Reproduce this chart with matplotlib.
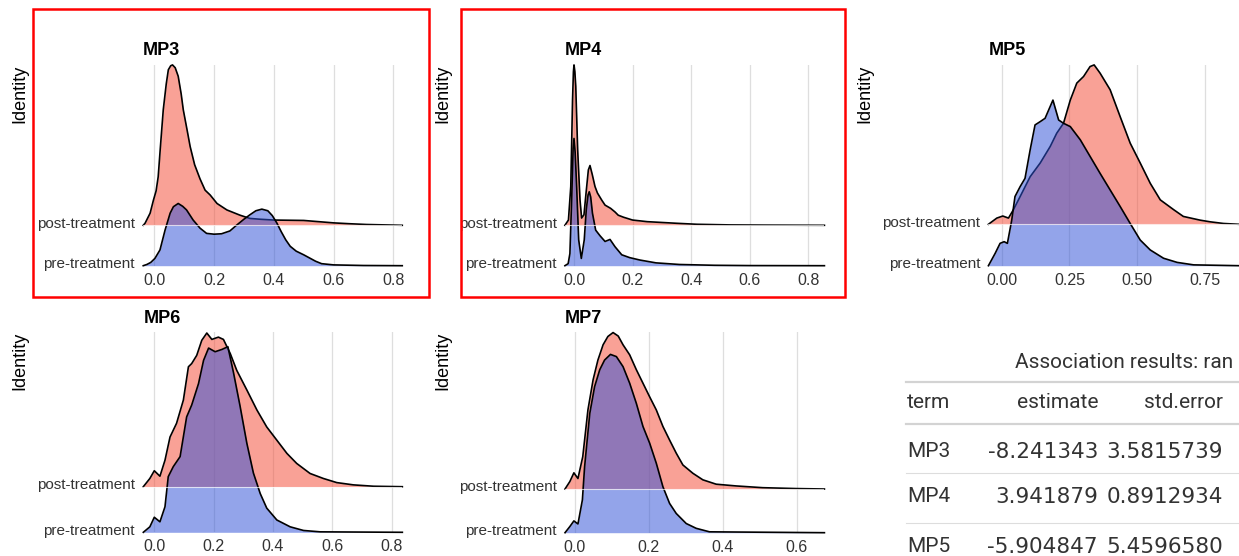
import numpy as np
import matplotlib
matplotlib.use("Agg")
import matplotlib.pyplot as plt
from matplotlib.patches import Rectangle
from matplotlib.transforms import ScaledTranslation

plt.rcParams['font.family'] = ['Liberation Sans', 'DejaVu Sans']

W, H = 1239, 556

# ridge heights, in units of the gap between the two ridges
mp3_post_x = [-0.037, -0.031, -0.014, -0.003, 0.006, 0.013, 0.02, 0.03, 0.04, 0.047, 0.055, 0.061, 0.07,
              0.08, 0.09, 0.097, 0.11, 0.12, 0.135, 0.153, 0.17, 0.187, 0.21, 0.243, 0.287, 0.32, 0.354,
              0.4, 0.45, 0.5, 0.55, 0.6, 0.65, 0.71, 0.77, 0.83]
mp3_post_h = [0, 0.05, 0.30, 0.62, 0.85, 1.2, 1.9, 2.86, 3.5, 3.85, 3.95, 3.97, 3.9,
              3.69, 3.25, 2.86, 2.35, 1.95, 1.5, 1.15, 0.87, 0.75, 0.54, 0.38, 0.25, 0.17, 0.15,
              0.13, 0.125, 0.12, 0.09, 0.06, 0.04, 0.02, 0.01, 0]
mp3_pre_x = [-0.037, -0.025, -0.012, 0.002, 0.019, 0.036, 0.053, 0.064, 0.08, 0.095, 0.108, 0.13, 0.153,
             0.175, 0.2, 0.225, 0.253, 0.275, 0.3, 0.32, 0.34, 0.36, 0.38, 0.395, 0.41, 0.425, 0.44,
             0.455, 0.475, 0.5, 0.52, 0.54, 0.56, 0.6, 0.7, 0.83]
mp3_pre_h = [0, 0.03, 0.08, 0.18, 0.39, 0.88, 1.30, 1.46, 1.54, 1.47, 1.38, 1.13, 0.93,
             0.80, 0.78, 0.79, 0.86, 1.0, 1.15, 1.26, 1.36, 1.40, 1.36, 1.24, 1.06, 0.84, 0.64,
             0.48, 0.36, 0.27, 0.19, 0.11, 0.05, 0.02, 0.005, 0]

mp4_post_x = [-0.031, -0.019, -0.011, -0.005, -0.002, 0.0, 0.003, 0.006, 0.0125, 0.0205, 0.026, 0.034,
              0.041, 0.049, 0.0546, 0.0626, 0.0717, 0.08, 0.095, 0.106, 0.125, 0.14, 0.151, 0.169, 0.2,
              0.25, 0.3, 0.35, 0.42, 0.53, 0.65, 0.855]
mp4_post_h = [0, 0.13, 0.96, 3.1, 3.8, 3.97, 3.8, 3.44, 1.87, 0.63, 0.18, 0.26,
              0.79, 1.37, 1.48, 1.25, 0.96, 0.8, 0.62, 0.5, 0.42, 0.33, 0.25, 0.2, 0.13,
              0.09, 0.07, 0.05, 0.025, 0.01, 0.005, 0]
mp4_pre_x = [-0.031, -0.02, -0.014, -0.008, -0.003, 0.0, 0.004, 0.009, 0.016, 0.025, 0.035, 0.042,
             0.048, 0.052, 0.057, 0.063, 0.074, 0.089, 0.106, 0.123, 0.14, 0.163, 0.19, 0.225, 0.28,
             0.36, 0.48, 0.6, 0.855]
mp4_pre_h = [0, 0.05, 0.3, 1.63, 2.9, 3.15, 2.8, 1.96, 0.64, 0.18, 0.64, 1.4,
             1.75, 1.83, 1.7, 1.3, 0.88, 0.74, 0.60, 0.65, 0.47, 0.27, 0.2, 0.14, 0.07,
             0.03, 0.01, 0.003, 0]

mp5_post_x = [-0.049, -0.018, 0.004, 0.025, 0.043, 0.068, 0.105, 0.142, 0.179, 0.203, 0.228, 0.253,
              0.277, 0.302, 0.326, 0.341, 0.363, 0.40, 0.437, 0.474, 0.511, 0.548, 0.585, 0.635,
              0.67, 0.732, 0.769, 0.818, 0.876]
mp5_post_h = [0, 0.15, 0.20, 0.15, 0.35, 0.67, 1.15, 1.48, 1.88, 2.2, 2.44, 3.0,
              3.41, 3.57, 3.81, 3.85, 3.65, 3.25, 2.6, 1.96, 1.48, 0.99, 0.59, 0.35,
              0.19, 0.10, 0.06, 0.02, 0]
mp5_pre_x = [-0.049, -0.024, -0.006, 0.009, 0.021, 0.037, 0.049, 0.068, 0.086, 0.105, 0.123, 0.142,
             0.16, 0.189, 0.21, 0.228, 0.253, 0.29, 0.326, 0.363, 0.40, 0.437, 0.474, 0.511,
             0.548, 0.597, 0.647, 0.708, 0.876]
mp5_pre_h = [0, 0.30, 0.54, 0.58, 0.54, 1.10, 1.67, 1.91, 2.11, 2.8, 3.4, 3.48,
             3.56, 4.0, 3.52, 3.44, 3.36, 3.04, 2.64, 2.23, 1.83, 1.43, 1.02, 0.62,
             0.38, 0.18, 0.08, 0.02, 0]

mp6_post_x = [-0.037, -0.015, 0.0, 0.019, 0.036, 0.053, 0.075, 0.098, 0.115, 0.126, 0.143, 0.16,
              0.177, 0.194, 0.216, 0.233, 0.256, 0.278, 0.312, 0.346, 0.379, 0.413, 0.447, 0.48,
              0.525, 0.57, 0.615, 0.671, 0.739, 0.836]
mp6_post_h = [0, 0.18, 0.35, 0.23, 0.58, 1.09, 1.39, 1.90, 2.63, 2.70, 2.88, 3.21,
              3.37, 3.23, 3.28, 3.23, 2.92, 2.55, 2.12, 1.68, 1.31, 1.02, 0.73, 0.51,
              0.29, 0.18, 0.09, 0.04, 0.01, 0]
mp6_pre_x = [-0.037, -0.015, 0.0, 0.019, 0.036, 0.047, 0.064, 0.087, 0.109, 0.126, 0.149, 0.166,
             0.183, 0.205, 0.228, 0.248, 0.267, 0.289, 0.312, 0.334, 0.357, 0.379, 0.413, 0.458,
             0.503, 0.559, 0.836]
mp6_pre_h = [0, 0.12, 0.33, 0.23, 0.56, 1.22, 1.44, 1.66, 2.53, 2.79, 3.26, 3.77,
             4.04, 3.96, 4.01, 4.07, 3.50, 2.77, 1.95, 1.30, 0.85, 0.53, 0.27, 0.12,
             0.04, 0.01, 0]

mp7_post_x = [-0.027, -0.014, -0.003, 0.008, 0.021, 0.035, 0.049, 0.062, 0.076, 0.089, 0.103, 0.117,
              0.13, 0.148, 0.166, 0.184, 0.202, 0.22, 0.238, 0.256, 0.274, 0.292, 0.319, 0.346,
              0.382, 0.436, 0.508, 0.598, 0.675]
mp7_post_h = [0, 0.17, 0.37, 0.24, 0.74, 1.81, 2.50, 2.95, 3.30, 3.49, 3.58, 3.50,
              3.30, 3.07, 2.73, 2.42, 2.11, 1.81, 1.43, 1.12, 0.82, 0.55, 0.36, 0.21,
              0.11, 0.07, 0.03, 0.01, 0]
mp7_pre_x = [-0.027, -0.014, -0.003, 0.008, 0.02, 0.026, 0.04, 0.053, 0.067, 0.08, 0.096, 0.112,
             0.13, 0.148, 0.166, 0.184, 0.202, 0.22, 0.238, 0.256, 0.274, 0.301, 0.328, 0.364, 0.675]
mp7_pre_h = [0, 0.14, 0.27, 0.20, 0.75, 1.51, 2.73, 3.34, 3.73, 3.95, 4.08, 4.03,
             3.80, 3.42, 2.96, 2.43, 2.05, 1.59, 1.05, 0.67, 0.44, 0.21, 0.10, 0.02, 0]

groups = ['pre-treatment', 'post-treatment']

tbl_title = 'Association results: ran'
tbl_cols = ['term', 'estimate', 'std.error']
tbl_terms = ['MP3', 'MP4', 'MP5']
tbl_estimate = ['-8.241343', '3.941879', '-5.904847']
tbl_stderr = ['3.5815739', '0.8912934', '5.4596580']

RED = (245/255, 76/255, 55/255)
BLUE = (49/255, 82/255, 215/255)
ALPHA = 0.52

# panel placement in pixels: zero-x, px per unit, x range, top, post baseline, pre baseline
panels = [
    ('MP3', mp3_post_x, mp3_post_h, mp3_pre_x, mp3_pre_h, (154.3, 298.75, -0.037, 0.83, 65, 225.3, 265.7),
     [0, 0.2, 0.4, 0.6, 0.8], '%.1f', (20, 94)),
    ('MP4', mp4_post_x, mp4_post_h, mp4_pre_x, mp4_pre_h, (574, 292.9, -0.031, 0.855, 65, 225.3, 265.7),
     [0, 0.2, 0.4, 0.6, 0.8], '%.1f', (443, 94)),
    ('MP5', mp5_post_x, mp5_post_h, mp5_pre_x, mp5_pre_h, (1001.7, 271.1, -0.049, 0.876, 65, 224.3, 265.7),
     [0, 0.25, 0.5, 0.75], '%.2f', (865, 94)),
    ('MP6', mp6_post_x, mp6_post_h, mp6_pre_x, mp6_pre_h, (154.3, 296.7, -0.037, 0.836, 332.3, 486.7, 532.3),
     [0, 0.2, 0.4, 0.6, 0.8], '%.1f', (20, 361)),
    ('MP7', mp7_post_x, mp7_post_h, mp7_pre_x, mp7_pre_h, (575, 369.5, -0.027, 0.675, 332.3, 489, 532.7),
     [0, 0.2, 0.4, 0.6], '%.1f', (443, 361)),
]

fig = plt.figure(figsize=(W/100, H/100), dpi=100)

for name, px, ph, qx, qh, geo, ticks, fmt, ident in panels:
    x0, ppu, xmin, xmax, top, post_b, pre_b = geo
    gap = pre_b - post_b
    left = x0 + xmin*ppu
    ax = fig.add_axes([left/W, 1 - pre_b/H, (xmax - xmin)*ppu/W, (pre_b - top)/H])
    ax.set_xlim(xmin, xmax)
    ax.set_ylim(1, 1 + (pre_b - top)/gap)
    for s in ax.spines.values():
        s.set_visible(False)
    for t in ticks:
        ax.axvline(t, color='#dedede', lw=0.9, zorder=0)

    post = 2 + np.array(ph)
    pre = 1 + np.array(qh)
    ax.fill_between(px, 2, post, color=RED, alpha=ALPHA, lw=0, zorder=1)
    ax.plot(px, post, color='black', lw=1.2, zorder=2, clip_on=False, solid_joinstyle='round')
    ax.fill_between(qx, 1, pre, color=BLUE, alpha=ALPHA, lw=0, zorder=3)
    ax.plot(qx, pre, color='black', lw=1.2, zorder=4, clip_on=False, solid_joinstyle='round')
    ax.plot([xmin, xmax], [2, 2], color='white', lw=0.8, alpha=0.7, zorder=5)

    ax.set_xticks(ticks)
    ax.set_xticklabels([fmt % t for t in ticks])
    ax.set_yticks([1, 2])
    ax.set_yticklabels(groups)
    ax.tick_params(length=0, labelcolor='#333333')
    ax.tick_params(axis='x', pad=5, labelsize=11.5)
    ax.tick_params(axis='y', pad=6, labelsize=11)
    for lab in ax.get_yticklabels():
        lab.set_transform(lab.get_transform() + ScaledTranslation(0, 0.03, fig.dpi_scale_trans))
    ax.set_title(name, loc='left', fontweight='bold', fontsize=13, pad=7)
    fig.text(ident[0]/W, 1 - ident[1]/H, 'Identity', rotation=90, ha='center', va='center', fontsize=13)

# overlay in pixel coordinates for the boxes and the table
ov = fig.add_axes([0, 0, 1, 1], zorder=10)
ov.set_xlim(0, W)
ov.set_ylim(H, 0)
ov.axis('off')
ov.patch.set_alpha(0)

ov.add_patch(Rectangle((32.8, 8.7), 429.2 - 32.8, 297 - 8.7, fill=False, ec='#ff0000', lw=1.8))
ov.add_patch(Rectangle((460.5, 8.7), 844.5 - 460.5, 297 - 8.7, fill=False, ec='#ff0000', lw=1.8))

tfont = dict(family=['Roboto', 'DejaVu Sans'], fontsize=15, color='#333333', va='center')
nfont = dict(family=['DejaVu Sans'], fontsize=15.5, color='#333333', va='center')
ov.text(1015, 362, tbl_title, ha='left', **tfont)
ov.plot([906, W], [381.7, 381.7], color='#d3d3d3', lw=1.6)
ov.plot([906, W], [424, 424], color='#d3d3d3', lw=1.6)
col_right = [1098, 1223]
ov.text(907, 403, tbl_cols[0], ha='left', **tfont)
ov.text(col_right[0], 403, tbl_cols[1], ha='right', **tfont)
ov.text(col_right[1], 403, tbl_cols[2], ha='right', **tfont)
row_y = [451.7, 496.7, 546.7]
for i, y in enumerate(row_y):
    ov.text(907, y, tbl_terms[i], ha='left', **tfont)
    ov.text(col_right[0], y, tbl_estimate[i], ha='right', **nfont)
    ov.text(col_right[1], y, tbl_stderr[i], ha='right', **nfont)
for y in [473.3, 523.3]:
    ov.plot([906, W], [y, y], color='#dddddd', lw=0.8)

fig.savefig('out.png', dpi=100)
